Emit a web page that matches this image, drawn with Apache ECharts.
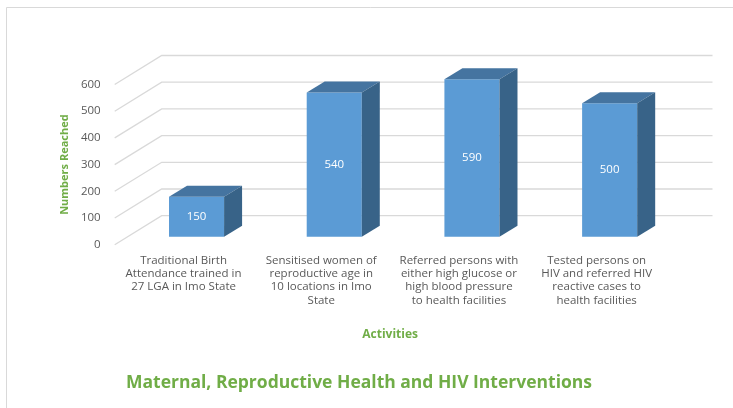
<!DOCTYPE html>
<html>
<head>
<meta charset="utf-8">
<script src="https://cdn.jsdelivr.net/npm/echarts@6/dist/echarts.min.js"></script>
<style>
  html, body { margin: 0; padding: 0; background: #fff; }
  #chart { width: 733px; height: 408px; }
</style>
</head>
<body>
<div id="chart"></div>
<script>
var activities = [
  'Traditional Birth\nAttendance trained in\n27 LGA in Imo State',
  'Sensitised women of\nreproductive age in\n10 locations in Imo\nState',
  'Referred persons with\neither high glucose or\nhigh blood pressure\nto health facilities',
  'Tested persons on\nHIV and referred HIV\nreactive cases to\nhealth facilities'
];
var numbersReached = [150, 540, 590, 500];
var yTicks = [0, 100, 200, 300, 400, 500, 600];

var green = '#70AD47';
var fontFamily = '"Open Sans", "Noto Sans", sans-serif';
// 3d offsets, measured from the front edge of the floor
var wallDx = 47, wallDy = -29;   // back wall
var barDx = 13, barDy = -8;      // front face of the bars
var depthDx = 18, depthDy = -11; // bar depth

var chart = echarts.init(document.getElementById('chart'));

function renderWall(params, api) {
  var cs = params.coordSys;
  var y = api.coord([0, api.value(0)])[1];
  return {
    type: 'polyline',
    shape: { points: [
      [cs.x, y],
      [cs.x + wallDx, y + wallDy],
      [cs.x + cs.width + wallDx, y + wallDy]
    ] },
    style: { stroke: '#d9d9d9', lineWidth: 1.3, fill: null }
  };
}

function renderBar(params, api) {
  var top = api.coord([api.value(0), api.value(1)]);
  var base = api.coord([api.value(0), 0]);
  var w = api.size([1, 0])[0] * 0.4;
  var x0 = top[0] + barDx - w / 2, x1 = x0 + w;
  var yt = top[1] + barDy, yb = base[1] + barDy;
  return {
    type: 'group',
    children: [
      { type: 'rect', shape: { x: x0, y: yt, width: w, height: yb - yt },
        style: { fill: '#5B9BD5' } },
      { type: 'polygon', shape: { points: [[x0, yt], [x1, yt], [x1 + depthDx, yt + depthDy], [x0 + depthDx, yt + depthDy]] },
        style: { fill: '#4574A0' } },
      { type: 'polygon', shape: { points: [[x1, yt], [x1, yb], [x1 + depthDx, yb + depthDy], [x1 + depthDx, yt + depthDy]] },
        style: { fill: '#386388' } },
      { type: 'text', x: (x0 + x1) / 2, y: (yt + yb) / 2,
        style: { text: String(api.value(1)), fill: '#fff', fontSize: 11.5, fontFamily: fontFamily,
                 align: 'center', verticalAlign: 'middle' } }
    ]
  };
}

var option = {
  animation: false,
  backgroundColor: '#fff',
  title: {
    text: 'Maternal, Reproductive Health and HIV Interventions',
    left: 121,
    top: 369,
    textStyle: { color: green, fontSize: 17.5, fontWeight: 'bold', fontFamily: fontFamily }
  },
  graphic: [{
    type: 'rect', silent: true,
    shape: { x: 6.5, y: 7.5, width: 760, height: 420 },
    style: { fill: null, stroke: '#d9d9d9', lineWidth: 1 }
  }],
  grid: { left: 114.7, right: 67.5, top: 84.5, bottom: 163.3 },
  xAxis: {
    type: 'category',
    data: activities,
    name: 'Activities',
    nameLocation: 'middle',
    nameGap: 84,
    nameTextStyle: { color: green, fontWeight: 'bold', fontSize: 12, fontFamily: fontFamily },
    axisLine: { show: false },
    axisTick: { show: false },
    axisLabel: { interval: 0, color: '#595959', fontSize: 11.5, lineHeight: 13.3,
                 fontFamily: fontFamily, margin: 9 }
  },
  yAxis: {
    type: 'value',
    min: 0, max: 600, interval: 100,
    name: 'Numbers Reached',
    nameLocation: 'middle',
    nameGap: 41,
    nameTextStyle: { color: green, fontWeight: 'bold', fontSize: 11, fontFamily: fontFamily },
    axisLine: { show: false },
    axisTick: { show: false },
    splitLine: { show: false },
    axisLabel: { color: '#595959', fontSize: 11.5, fontFamily: fontFamily, margin: 14 }
  },
  series: [{
    type: 'custom',
    renderItem: renderWall,
    data: yTicks.map(function (v) { return [v]; }),
    encode: { y: 0 },
    silent: true,
    z: 1
  }, {
    type: 'custom',
    renderItem: renderBar,
    data: numbersReached.map(function (v, i) { return [i, v]; }),
    encode: { x: 0, y: 1 },
    z: 2
  }]
};

chart.setOption(option);
</script>
</body>
</html>
